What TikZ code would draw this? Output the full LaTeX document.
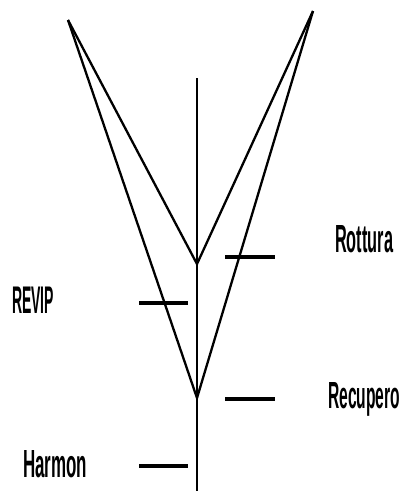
\documentclass[tikz,border=0pt]{standalone}
\usepackage{fontspec}
\usepackage{graphicx}
\setmainfont{Liberation Sans}
\tikzset{
  ln/.style={line width=2.3pt, line join=miter, line cap=butt},
  tick/.style={line width=3.2pt},
  lbl/.style={inner sep=0pt, anchor=base west, font=\bfseries}
}
\newcommand{\sqz}[3]{\resizebox{#1pt}{#2pt}{#3}}
\begin{document}
\begin{tikzpicture}[x=1pt,y=-1pt]
\useasboundingbox (0,0) rectangle (404,491);
% points
\coordinate (tl) at (68,20);
\coordinate (tr) at (313,11);
\coordinate (v1) at (197,264);
\coordinate (v2) at (197,398);
\coordinate (top) at (197,78);
\coordinate (bot) at (197,491);
% axis
\draw[ln] (top) -- (bot);
% V shapes
\draw[ln] (tl) -- (v1) -- (tr);
\draw[ln] (tl) -- (v2) -- (tr);
% ticks
\coordinate (r1) at (225,257); \coordinate (r2) at (275,257);
\coordinate (e1) at (139,303); \coordinate (e2) at (188,303);
\coordinate (c1) at (225,399); \coordinate (c2) at (275,399);
\coordinate (h1) at (139,466); \coordinate (h2) at (188,466);
\draw[tick] (r1) -- (r2);
\draw[tick] (e1) -- (e2);
\draw[tick] (c1) -- (c2);
\draw[tick] (h1) -- (h2);
% labels
\node[lbl] (rottura) at (335,252) {\sqz{58}{27}{Rottura}};
\node[lbl] (revip) at (12,313) {\sqz{42}{26.5}{REVIP}};
\node[lbl] (recupero) at (328,408) {\sqz{72}{26}{Recupero}};
\node[lbl] (harmon) at (23,477) {\sqz{64}{27}{Harmon}};
\end{tikzpicture}
\end{document}
